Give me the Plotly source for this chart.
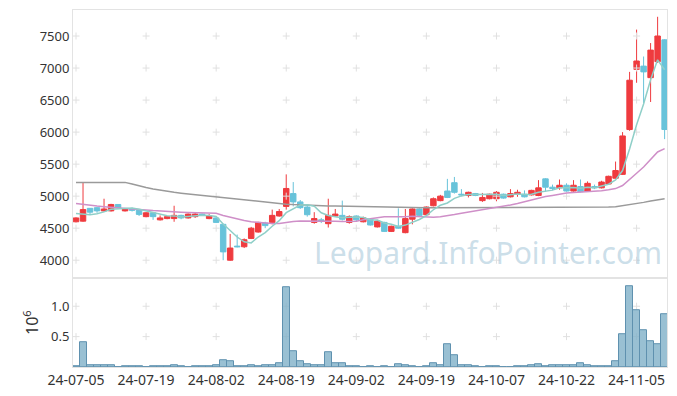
import plotly.graph_objects as go

dates = [
    "24-07-05", "24-07-08", "24-07-09", "24-07-10", "24-07-11", "24-07-12",
    "24-07-15", "24-07-16", "24-07-17", "24-07-18", "24-07-19",
    "24-07-22", "24-07-23", "24-07-24", "24-07-25", "24-07-26",
    "24-07-29", "24-07-30", "24-07-31", "24-08-01", "24-08-02",
    "24-08-05", "24-08-06", "24-08-07", "24-08-08", "24-08-09",
    "24-08-12", "24-08-13", "24-08-14", "24-08-16",
    "24-08-19", "24-08-20", "24-08-21", "24-08-22", "24-08-23",
    "24-08-26", "24-08-27", "24-08-28", "24-08-29", "24-08-30",
    "24-09-02", "24-09-03", "24-09-04", "24-09-05", "24-09-06",
    "24-09-09", "24-09-10", "24-09-11", "24-09-12", "24-09-13",
    "24-09-19", "24-09-20",
    "24-09-23", "24-09-24", "24-09-25", "24-09-26", "24-09-27",
    "24-09-30", "24-10-02", "24-10-04",
    "24-10-07", "24-10-08", "24-10-10", "24-10-11",
    "24-10-14", "24-10-15", "24-10-16", "24-10-17", "24-10-18",
    "24-10-21", "24-10-22", "24-10-23", "24-10-24", "24-10-25",
    "24-10-28", "24-10-29", "24-10-30", "24-10-31", "24-11-01",
    "24-11-04", "24-11-05", "24-11-06", "24-11-07", "24-11-08",
    "24-11-11",
]

open_ = [4600, 4610, 4810, 4820, 4770, 4770, 4870, 4770, 4800, 4790,
         4680, 4740, 4630, 4650, 4650, 4700, 4660, 4680, 4720, 4650,
         4660, 4560, 4000, 4220, 4210, 4340, 4440, 4580, 4590, 4690,
         4840, 5040, 4910, 4830, 4590, 4630, 4570, 4690, 4700, 4590,
         4690, 4600, 4640, 4520, 4590, 4450, 4530, 4430, 4640, 4800,
         4710, 4850, 4930, 5080, 5210, 5030, 5010, 5040, 4930, 4960,
         4960, 5030, 4990, 5030, 5030, 5020, 5010, 5270, 5140, 5130,
         5170, 5080, 5150, 5080, 5150, 5130, 5190, 5280, 5340, 6040,
         6980, 7030, 6850, 7100, 7440]
high = [4670, 5220, 4815, 4830, 4960, 4880, 4875, 4810, 4820, 4795,
        4750, 4745, 4700, 4690, 4850, 4710, 4730, 4750, 4730, 4720,
        4670, 4570, 4410, 4400, 4340, 4520, 4600, 4600, 4790, 4800,
        5340, 5220, 4940, 4860, 4750, 4660, 4960, 4800, 4930, 4700,
        4700, 4680, 4650, 4630, 4600, 4540, 4810, 4800, 4810, 4810,
        4840, 4980, 5020, 5270, 5300, 5110, 5070, 5050, 5050, 5040,
        5080, 5040, 5110, 5100, 5090, 5100, 5250, 5280, 5180, 5260,
        5200, 5250, 5260, 5230, 5180, 5240, 5320, 5540, 6000, 6940,
        7600, 7180, 7390, 7800, 7450]
low = [4590, 4600, 4720, 4740, 4760, 4760, 4810, 4760, 4760, 4690,
       4670, 4630, 4620, 4640, 4600, 4640, 4650, 4660, 4690, 4640,
       4580, 4000, 3990, 4200, 4190, 4330, 4430, 4500, 4560, 4680,
       4790, 4840, 4800, 4680, 4570, 4580, 4510, 4680, 4620, 4570,
       4610, 4590, 4540, 4510, 4440, 4440, 4490, 4420, 4560, 4690,
       4700, 4840, 4920, 4970, 5040, 5000, 4980, 5000, 4910, 4950,
       4920, 4960, 4980, 4990, 4980, 5010, 5000, 5070, 5090, 5100,
       5070, 5070, 5060, 5070, 5110, 5120, 5180, 5270, 5330, 6020,
       6770, 6450, 6470, 7080, 5890]
close = [4660, 4790, 4750, 4770, 4800, 4870, 4820, 4800, 4780, 4715,
         4740, 4680, 4660, 4680, 4700, 4660, 4720, 4720, 4700, 4690,
         4590, 4130, 4190, 4210, 4320, 4500, 4590, 4540, 4700, 4760,
         5120, 4910, 4820, 4710, 4650, 4610, 4700, 4720, 4640, 4680,
         4630, 4660, 4550, 4610, 4450, 4530, 4500, 4650, 4800, 4700,
         4830, 4960, 5000, 4980, 5060, 5020, 5060, 5010, 4980, 5030,
         5060, 4970, 5040, 5060, 4990, 5090, 5130, 5140, 5120, 5170,
         5080, 5170, 5070, 5200, 5130, 5220, 5310, 5400, 5940, 6810,
         7110, 6940, 7280, 7500, 6040]

ma5 = [4729, 4718, 4708, 4725, 4754, 4796, 4802, 4812, 4814, 4797,
       4771, 4743, 4715, 4695, 4692, 4676, 4684, 4696, 4700, 4698,
       4684, 4566, 4460, 4362, 4288, 4270, 4362, 4432, 4530, 4618,
       4742, 4806, 4862, 4864, 4842, 4740, 4698, 4678, 4664, 4670,
       4674, 4666, 4632, 4626, 4580, 4560, 4528, 4548, 4586, 4636,
       4696, 4788, 4858, 4894, 4966, 5004, 5024, 5026, 5026, 5020,
       5028, 5010, 5016, 5032, 5024, 5030, 5062, 5082, 5094, 5130,
       5128, 5136, 5122, 5138, 5130, 5158, 5186, 5252, 5400, 5736,
       6114, 6440, 6816, 7128, 6974]
ma20 = [4886, 4870, 4855, 4845, 4835, 4828, 4822, 4815, 4805, 4795,
        4785, 4775, 4766, 4760, 4755, 4750, 4746, 4743, 4740, 4735,
        4732, 4699, 4671, 4643, 4619, 4600, 4589, 4576, 4572, 4574,
        4593, 4605, 4613, 4614, 4612, 4609, 4608, 4608, 4605, 4605,
        4607, 4633, 4651, 4671, 4678, 4679, 4675, 4680, 4685, 4682,
        4668, 4670, 4679, 4693, 4713, 4734, 4752, 4766, 4783, 4801,
        4822, 4838, 4862, 4885, 4912, 4940, 4971, 4996, 5012, 5035,
        5048, 5058, 5062, 5073, 5076, 5086, 5099, 5118, 5166, 5255,
        5358, 5456, 5568, 5690, 5743]
ma_long = [5215, 5216, 5218, 5220, 5222, 5224, 5224, 5215, 5190, 5160,
           5135, 5112, 5092, 5075, 5060, 5047, 5035, 5022, 5010, 4998,
           4985, 4972, 4960, 4948, 4937, 4927, 4915, 4903, 4893, 4884,
           4875, 4868, 4862, 4857, 4853, 4850, 4847, 4845, 4843, 4840,
           4837, 4833, 4828, 4825, 4822, 4822, 4821, 4821, 4820, 4820,
           4820, 4820, 4820, 4820, 4820, 4820, 4820, 4821, 4821, 4821,
           4822, 4822, 4823, 4823, 4824, 4824, 4825, 4825, 4826, 4826,
           4827, 4827, 4828, 4828, 4829, 4830, 4831, 4835, 4850, 4868,
           4885, 4903, 4925, 4945, 4960]

volume_m = [0.010, 0.400, 0.022, 0.022, 0.022, 0.022, 0.000, 0.005, 0.005, 0.005,
            0.000, 0.005, 0.005, 0.005, 0.027, 0.005, 0.000, 0.005, 0.005, 0.005,
            0.027, 0.110, 0.093, 0.005, 0.005, 0.022, 0.005, 0.022, 0.022, 0.055,
            1.310, 0.260, 0.093, 0.040, 0.022, 0.022, 0.240, 0.055, 0.055, 0.005,
            0.005, 0.000, 0.005, 0.000, 0.005, 0.000, 0.040, 0.022, 0.005, 0.000,
            0.005, 0.055, 0.022, 0.370, 0.200, 0.022, 0.022, 0.005, 0.000, 0.005,
            0.005, 0.000, 0.000, 0.005, 0.005, 0.022, 0.040, 0.005, 0.022, 0.022,
            0.022, 0.022, 0.070, 0.022, 0.005, 0.005, 0.005, 0.093, 0.540, 1.330,
            0.930, 0.600, 0.420, 0.370, 0.870]

price_ticks = [4000, 4500, 5000, 5500, 6000, 6500, 7000, 7500]
vol_ticks = [0.5, 1.0]
date_ticks = dates[0::10]

UP = "#ef3b3f"
DOWN = "#68c3da"
FONT = "Noto Sans"
VOL_RANGE = [0, 1.461]

fig = go.Figure()

# grid crosses at tick intersections (drawn beneath the data)
gx, gy = [], []
for d in date_ticks:
    for p in price_ticks:
        gx.append(d); gy.append(p)
fig.add_trace(go.Scatter(x=gx, y=gy, mode="markers", xaxis="x", yaxis="y",
                         marker=dict(symbol="cross-thin", size=5,
                                     line=dict(color="#e0e0e0", width=1)),
                         hoverinfo="skip", showlegend=False))
vx, vy = [], []
for d in date_ticks:
    for v in vol_ticks:
        vx.append(d); vy.append(v)
fig.add_trace(go.Scatter(x=vx, y=vy, mode="markers", xaxis="x2", yaxis="y2",
                         marker=dict(symbol="cross-thin", size=5,
                                     line=dict(color="#e0e0e0", width=1)),
                         hoverinfo="skip", showlegend=False))

fig.add_trace(go.Scatter(x=dates, y=ma_long, mode="lines", xaxis="x", yaxis="y",
                         line=dict(color="#9a9a9a", width=1.5), showlegend=False))
fig.add_trace(go.Scatter(x=dates, y=ma20, mode="lines", xaxis="x", yaxis="y",
                         line=dict(color="#cf8fc8", width=1.5), showlegend=False))
fig.add_trace(go.Scatter(x=dates, y=ma5, mode="lines", xaxis="x", yaxis="y",
                         line=dict(color="#8fcfc8", width=1.5), showlegend=False))

fig.add_trace(go.Candlestick(
    x=dates, open=open_, high=high, low=low, close=close,
    xaxis="x", yaxis="y",
    increasing=dict(line=dict(color=UP, width=1), fillcolor=UP),
    decreasing=dict(line=dict(color=DOWN, width=1), fillcolor=DOWN),
    whiskerwidth=0, showlegend=False))

fig.add_trace(go.Bar(x=dates, y=volume_m, xaxis="x2", yaxis="y3",
                     marker=dict(color="rgba(128,176,200,0.8)",
                                 line=dict(color="rgba(95,145,175,1)", width=1)),
                     showlegend=False))

xr = [-0.43, 84.34]
axis_common = dict(showgrid=False, zeroline=False, showline=True, linecolor="#e3e3e3",
                   linewidth=1, mirror=True, ticks="", automargin=False)

fig.update_layout(
    width=677, height=396,
    margin=dict(l=73, r=10, t=10, b=29),
    plot_bgcolor="white", paper_bgcolor="white",
    font=dict(family=FONT, size=13, color="#333333"),
    bargap=0, boxgap=0.22, boxgroupgap=0,
    xaxis=dict(domain=[0, 1], anchor="y", type="category", range=xr,
               categoryorder="array", categoryarray=dates,
               showticklabels=False, rangeslider=dict(visible=False), **axis_common),
    yaxis=dict(domain=[0.2487, 1], anchor="x", range=[3719, 7906],
               tickvals=price_ticks, ticktext=[str(t) for t in price_ticks], **axis_common),
    xaxis2=dict(domain=[0, 1], anchor="y2", type="category", range=xr,
                categoryorder="array", categoryarray=dates,
                tickvals=date_ticks, ticktext=date_ticks, tickangle=0,
                tickfont=dict(size=14), **axis_common),
    yaxis2=dict(domain=[0, 0.2487], anchor="x2", range=VOL_RANGE,
                tickvals=vol_ticks, ticktext=["0.5", "1.0"],
                title=dict(text="10<sup>6</sup>", standoff=8), **axis_common),
    yaxis3=dict(overlaying="y2", anchor="x2", range=VOL_RANGE, visible=False,
                showgrid=False, zeroline=False),
    annotations=[dict(text="Leopard.InfoPointer.com", xref="paper", yref="paper",
                      x=0.699, y=0.322, xanchor="center", yanchor="middle", showarrow=False,
                      font=dict(family=FONT, size=30, color="rgba(160,195,215,0.55)"))],
)

fig.write_html("out.html", config={"displayModeBar": False},
               post_script="document.body.style.margin='0';")
